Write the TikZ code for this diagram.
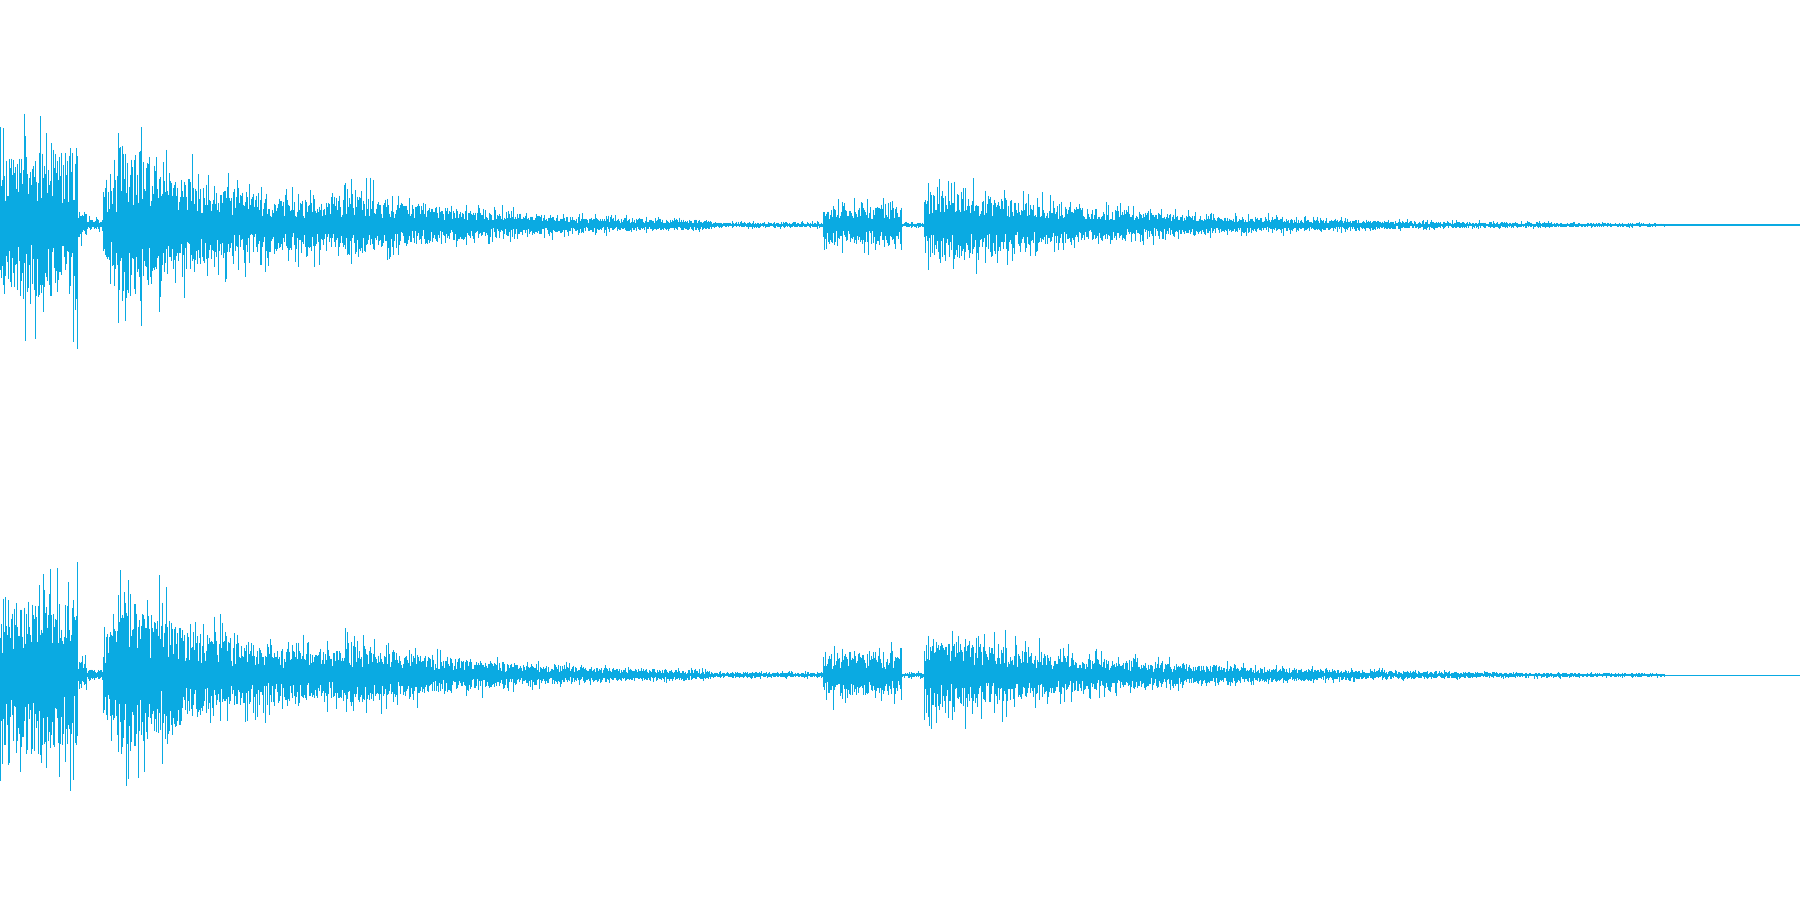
\documentclass[tikz,border=0pt]{standalone}
\definecolor{wave}{RGB}{10,170,226}
\begin{document}
\begin{tikzpicture}[x=0.02cm,y=-0.02cm,
  declare function={env(\x)= \x<68 ? 115 : (\x<76 ? 20 : (\x<90 ? 8 : (\x<102 ? 70 : (\x<300 ? 30+105*exp(-(\x-102)/65) : (\x<620 ? 4+46*exp(-(\x-300)/120) : (\x<717 ? 4 : (\x<786 ? 32 : (\x<805 ? 4 : (\x<845 ? 52 : (\x<1450 ? 1.5+48*exp(-(\x-845)/160) : 0.7))))))))));},
  wv/.style={draw=wave,line width=0.5pt}]
\useasboundingbox (0,0) rectangle (1568,784);
\pgfmathsetseed{11}
\foreach \c in {196,588}{
  \draw[wv] (0,\c) -- (1568,\c);
  \foreach \i in {0,0.7,...,1450}{
    \pgfmathsetmacro{\e}{env(\i)}
    \pgfmathsetmacro{\u}{\e*(0.15+0.4*rnd+0.45*rnd^6)}
    \pgfmathsetmacro{\d}{\e*(0.15+0.4*rnd+0.45*rnd^6)}
    \draw[wv] (\i,\c-\u) -- (\i,\c+\d);
  }
}
\end{tikzpicture}
\end{document}
